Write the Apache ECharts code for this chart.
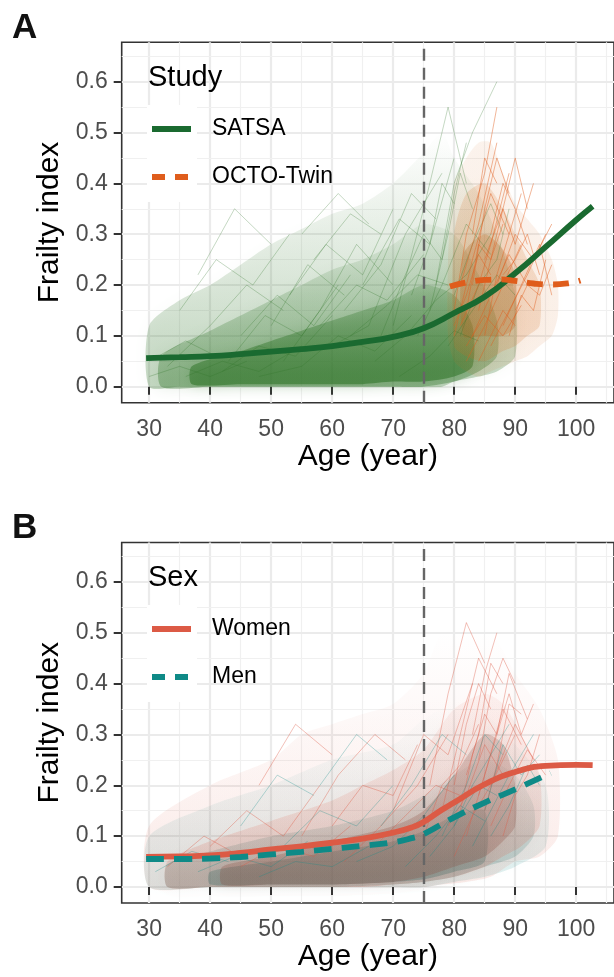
<!DOCTYPE html>
<html>
<head>
<meta charset="utf-8">
<script src="https://cdn.jsdelivr.net/npm/echarts@6/dist/echarts.min.js"></script>
<style>
  html, body { margin: 0; padding: 0; background: #fff; }
  #chart { width: 614px; height: 977px; }
</style>
</head>
<body>
<div id="chart"></div>
<script>
// tick labels
const xTicks = [30, 40, 50, 60, 70, 80, 90, 100]
const xMinor = [35, 45, 55, 65, 75, 85, 95, 105]
const yTicks = [0, 0.1, 0.2, 0.3, 0.4, 0.5, 0.6]
const yMinor = [0.05, 0.15, 0.25, 0.35, 0.45, 0.55, 0.65]
const cutAge = 75

// panel A smooth curves [age, frailty]
const satsaCurve = [[29.5, 0.056], [35, 0.058], [40, 0.060], [45, 0.064], [50, 0.069], [55, 0.074], [60, 0.080],
  [65, 0.088], [70, 0.098], [75, 0.115], [80, 0.145], [85, 0.177], [90, 0.223], [95, 0.275], [100, 0.328], [102.7, 0.355]]
const octoCurve = [[79.3, 0.197], [82, 0.205], [85, 0.210], [87.5, 0.211], [90, 0.208], [93, 0.203], [96, 0.201],
  [98.5, 0.203], [100.7, 0.209]]

// panel B smooth curves
const womenCurve = [[29.5, 0.059], [35, 0.060], [40, 0.062], [45, 0.067], [50, 0.074], [55, 0.080], [60, 0.087],
  [65, 0.095], [70, 0.107], [73, 0.117], [75, 0.128], [78, 0.152], [80, 0.166], [85, 0.202], [90, 0.226], [95, 0.238],
  [100, 0.240], [102.7, 0.2395]]
const menCurve = [[29.5, 0.055], [35, 0.055], [40, 0.056], [45, 0.059], [50, 0.064], [55, 0.069], [60, 0.075],
  [65, 0.081], [70, 0.088], [73, 0.096], [75, 0.104], [80, 0.137], [85, 0.166], [90, 0.192], [95.8, 0.224]]

// spread of the individual trajectories [age, low, high]
const satsaOuter = [[30, 0, 0.12], [35, 0, 0.17], [40, 0, 0.2], [45, 0, 0.24], [50, 0, 0.28], [55, 0, 0.31], [60, 0, 0.34],
  [65, 0, 0.36], [70, 0, 0.4], [75, 0, 0.46], [78, 0, 0.5], [80, 0.01, 0.45], [84, 0.02, 0.38], [87, 0.03, 0.3], [90, 0.06, 0.18]]
const satsaMid = [[32, 0, 0.06], [40, 0, 0.11], [45, 0, 0.14], [50, 0, 0.17], [55, 0, 0.2], [60, 0, 0.23], [65, 0, 0.25],
  [70, 0, 0.28], [75, 0, 0.32], [80, 0.01, 0.3], [84, 0.03, 0.22], [87, 0.06, 0.13]]
const satsaCore = [[37, 0.005, 0.04], [45, 0.005, 0.07], [50, 0.005, 0.09], [55, 0.005, 0.11], [60, 0.005, 0.13],
  [65, 0.005, 0.15], [70, 0.01, 0.17], [75, 0.01, 0.2], [80, 0.02, 0.18], [83, 0.04, 0.12]]
const octoOuter = [[79, 0.1, 0.25], [80, 0.05, 0.4], [82, 0.03, 0.45], [84, 0.02, 0.48], [86, 0.03, 0.48], [88, 0.04, 0.42],
  [90, 0.05, 0.36], [92, 0.06, 0.33], [94, 0.08, 0.3], [96, 0.1, 0.25], [97, 0.14, 0.2]]
const octoMid = [[80, 0.08, 0.3], [82, 0.06, 0.38], [85, 0.05, 0.4], [88, 0.07, 0.35], [90, 0.08, 0.3], [92, 0.1, 0.25],
  [94, 0.12, 0.2]]
const octoCore = [[81.5, 0.1, 0.26], [85, 0.1, 0.3], [88, 0.1, 0.27], [90, 0.12, 0.22]]

const womenOuter = [[30, 0, 0.12], [40, 0, 0.2], [50, 0, 0.25], [55, 0, 0.3], [60, 0, 0.32], [65, 0, 0.34], [70, 0, 0.36],
  [75, 0, 0.42], [78, 0.005, 0.5], [82, 0.01, 0.5], [86, 0.02, 0.5], [90, 0.05, 0.42], [94, 0.06, 0.35], [97, 0.1, 0.25]]
const womenMid = [[33, 0, 0.05], [40, 0, 0.09], [50, 0, 0.13], [60, 0, 0.17], [65, 0, 0.2], [70, 0.005, 0.23],
  [75, 0.01, 0.27], [80, 0.02, 0.35], [85, 0.04, 0.38], [88, 0.06, 0.36], [91, 0.08, 0.3], [94, 0.12, 0.22]]
const womenCore = [[42, 0.005, 0.04], [50, 0.005, 0.06], [60, 0.005, 0.09], [70, 0.01, 0.12], [75, 0.02, 0.15],
  [80, 0.04, 0.22], [85, 0.06, 0.3], [88, 0.09, 0.28], [90, 0.12, 0.2]]
const menOuter = [[30, 0, 0.1], [40, 0, 0.16], [50, 0, 0.2], [60, 0, 0.25], [70, 0, 0.28], [75, 0, 0.33], [80, 0.01, 0.36],
  [85, 0.02, 0.34], [90, 0.04, 0.28], [95, 0.08, 0.2]]
const menMid = [[33, 0, 0.045], [40, 0, 0.07], [50, 0, 0.1], [60, 0, 0.12], [70, 0.005, 0.15], [75, 0.01, 0.18],
  [80, 0.02, 0.22], [85, 0.04, 0.25], [90, 0.06, 0.22], [93, 0.1, 0.16]]
const menCore = [[40, 0.005, 0.03], [50, 0.005, 0.05], [60, 0.005, 0.07], [70, 0.01, 0.09], [75, 0.015, 0.11],
  [80, 0.03, 0.14], [85, 0.05, 0.15]]

// individual trajectories picked out of the clouds
const satsaPaths = [
  [[36, 0.02], [42, 0.05], [48, 0.03], [55, 0.08]],
  [[45, 0.1], [51, 0.18], [57, 0.12], [63, 0.22]],
  [[52, 0.05], [58, 0.15], [64, 0.28], [70, 0.2]],
  [[60, 0.08], [66, 0.12], [72, 0.3], [78, 0.42]],
  [[70, 0.12], [75, 0.35], [79, 0.55], [82, 0.4]],
  [[33, 0.04], [40, 0.12], [46, 0.2], [52, 0.15]],
  [[65, 0.2], [71, 0.33], [76, 0.28], [80, 0.45]],
  [[48, 0.02], [55, 0.04], [61, 0.1], [67, 0.07], [73, 0.14]],
  [[74, 0.1], [78, 0.2], [82, 0.32], [86, 0.26]],
  [[38, 0.22], [44, 0.35], [50, 0.28]],
  [[55, 0.3], [61, 0.38], [66, 0.32]],
  [[77, 0.2], [80, 0.4], [83, 0.5], [87, 0.6]],
  [[30, 0.05], [36, 0.09], [41, 0.06]],
  [[58, 0.12], [64, 0.2], [69, 0.17], [75, 0.26]],
  [[67, 0.05], [72, 0.1], [77, 0.17], [82, 0.22], [86, 0.3]],
  [[42, 0.03], [48, 0.08], [54, 0.06], [60, 0.14]],
  [[62, 0.15], [68, 0.24], [73, 0.38], [77, 0.33]],
  [[50, 0.12], [56, 0.24], [62, 0.18]],
  [[79, 0.08], [83, 0.15], [87, 0.22], [90, 0.18]],
  [[71, 0.02], [76, 0.06], [80, 0.11], [84, 0.09]],
  [[76, 0.15], [79, 0.3], [81, 0.42], [83, 0.35]],
  [[78, 0.25], [80, 0.38], [82, 0.48]],
  [[73, 0.18], [76, 0.28], [78, 0.4], [80, 0.36]],
  [[68, 0.1], [72, 0.22], [75, 0.3], [78, 0.25]],
  [[35, 0.15], [41, 0.25], [47, 0.2], [53, 0.3]],
  [[43, 0.05], [49, 0.14], [55, 0.1], [61, 0.2]],
  [[57, 0.25], [63, 0.34], [68, 0.3]],
  [[80, 0.18], [83, 0.28], [86, 0.36], [88, 0.3]],
  [[30, 0.02], [35, 0.04], [40, 0.02], [46, 0.05]],
  [[63, 0.1], [69, 0.16], [74, 0.22], [79, 0.2]],
  [[81, 0.1], [84, 0.2], [87, 0.25], [89, 0.35]],
  [[53, 0.18], [59, 0.28], [65, 0.22], [70, 0.35]]
]
const octoPaths = [
  [[80, 0.1], [83, 0.25], [86, 0.38], [89, 0.3]],
  [[82, 0.05], [85, 0.12], [88, 0.2], [91, 0.28]],
  [[84, 0.15], [87, 0.3], [90, 0.45], [92, 0.35]],
  [[81, 0.2], [84, 0.32], [87, 0.48]],
  [[86, 0.08], [89, 0.15], [92, 0.22], [95, 0.3]],
  [[83, 0.1], [86, 0.18], [89, 0.26], [92, 0.2]],
  [[80, 0.15], [82, 0.3], [85, 0.42], [87, 0.55]],
  [[88, 0.12], [91, 0.2], [94, 0.28], [96, 0.18]],
  [[85, 0.25], [88, 0.35], [90, 0.28], [93, 0.4]],
  [[82, 0.08], [85, 0.14], [88, 0.1], [91, 0.16]],
  [[87, 0.2], [90, 0.3], [93, 0.25], [96, 0.32]],
  [[81, 0.12], [84, 0.2], [86, 0.28], [89, 0.42]],
  [[83, 0.2], [85, 0.35], [87, 0.45], [89, 0.38]],
  [[85, 0.1], [87, 0.22], [89, 0.3], [91, 0.38]],
  [[89, 0.1], [91, 0.18], [93, 0.15], [95, 0.25]],
  [[80, 0.12], [82, 0.18], [84, 0.26], [86, 0.22]],
  [[84, 0.05], [86, 0.1], [88, 0.15], [90, 0.12]],
  [[86, 0.3], [88, 0.4], [90, 0.35], [92, 0.28]],
  [[82, 0.15], [84, 0.28], [86, 0.25], [88, 0.32]],
  [[90, 0.15], [92, 0.2], [94, 0.18], [96, 0.24]],
  [[83, 0.3], [85, 0.45], [87, 0.4]],
  [[88, 0.22], [90, 0.25], [92, 0.3], [94, 0.22]]
]
const womenPaths = [
  [[40, 0.08], [46, 0.15], [52, 0.1], [58, 0.2]],
  [[55, 0.1], [61, 0.22], [67, 0.3], [72, 0.25]],
  [[78, 0.15], [81, 0.3], [84, 0.45], [87, 0.38]],
  [[82, 0.1], [85, 0.22], [88, 0.35], [91, 0.28]],
  [[76, 0.2], [79, 0.38], [82, 0.52], [85, 0.44]],
  [[84, 0.18], [87, 0.3], [89, 0.42], [92, 0.33]],
  [[62, 0.05], [68, 0.12], [74, 0.2], [79, 0.3]],
  [[33, 0.04], [39, 0.1], [45, 0.06]],
  [[48, 0.2], [54, 0.32], [60, 0.26]],
  [[86, 0.12], [89, 0.2], [92, 0.27], [95, 0.22]],
  [[70, 0.15], [75, 0.3], [79, 0.26], [83, 0.4]],
  [[80, 0.06], [83, 0.14], [86, 0.2], [90, 0.3]],
  [[80, 0.2], [82, 0.32], [84, 0.4], [86, 0.35]],
  [[84, 0.25], [86, 0.38], [88, 0.45], [90, 0.4]],
  [[86, 0.2], [88, 0.26], [90, 0.32], [93, 0.25]],
  [[79, 0.12], [82, 0.18], [85, 0.28], [88, 0.22]],
  [[83, 0.3], [85, 0.42], [87, 0.5]],
  [[88, 0.1], [90, 0.18], [92, 0.22], [94, 0.3]],
  [[75, 0.1], [78, 0.2], [81, 0.24], [84, 0.32]],
  [[60, 0.12], [65, 0.2], [70, 0.18], [74, 0.28]],
  [[45, 0.04], [51, 0.08], [57, 0.06], [63, 0.12]],
  [[67, 0.08], [72, 0.14], [77, 0.2], [81, 0.18]],
  [[81, 0.15], [83, 0.26], [85, 0.34], [87, 0.3]],
  [[85, 0.15], [87, 0.24], [89, 0.36], [91, 0.34]],
  [[87, 0.3], [89, 0.38], [91, 0.3], [93, 0.36]],
  [[82, 0.22], [84, 0.3], [86, 0.44], [88, 0.4]]
]
const menPaths = [
  [[38, 0.03], [44, 0.06], [50, 0.04], [56, 0.09]],
  [[52, 0.08], [58, 0.15], [64, 0.12], [70, 0.2]],
  [[64, 0.05], [70, 0.08], [75, 0.14], [80, 0.22]],
  [[78, 0.1], [82, 0.2], [85, 0.3], [88, 0.26]],
  [[83, 0.08], [86, 0.15], [89, 0.22], [93, 0.3]],
  [[45, 0.12], [51, 0.22], [57, 0.18]],
  [[72, 0.04], [77, 0.1], [81, 0.16], [85, 0.13]],
  [[31, 0.03], [37, 0.07], [43, 0.05]],
  [[58, 0.2], [64, 0.3], [69, 0.25]],
  [[85, 0.15], [88, 0.28], [91, 0.22], [94, 0.26]],
  [[80, 0.12], [83, 0.2], [86, 0.26], [89, 0.32]],
  [[86, 0.1], [89, 0.16], [92, 0.24], [94, 0.2]],
  [[76, 0.06], [80, 0.12], [84, 0.2], [87, 0.18]],
  [[48, 0.02], [54, 0.05], [60, 0.04], [66, 0.08]],
  [[68, 0.12], [73, 0.2], [78, 0.3], [82, 0.26]]
]

const green = '#1a6a30'
const greenCloud = '#2f7428'
const orange = '#df5d1c'
const octoCloud = '#d26a1c'
const red = '#dc5a45'
const teal = '#0f8a87'
const font = 'Liberation Sans, Arial, sans-serif'

function rgba(hex, a) {
  const n = parseInt(hex.slice(1), 16)
  return 'rgba(' + (n >> 16) + ',' + ((n >> 8) & 255) + ',' + (n & 255) + ',' + a + ')'
}

// density band: fades towards its upper edge, blurred rim
function bandSeries(pts, color, topAlpha, bottomAlpha, gi) {
  return {
    type: 'custom',
    xAxisIndex: gi,
    yAxisIndex: gi,
    silent: true,
    clip: true,
    z: 1,
    data: pts,
    encode: { x: 0, y: [1, 2] },
    renderItem(params, api) {
      if (params.dataIndex !== 0) return null
      const up = []
      const dn = []
      pts.forEach(p => {
        up.push(api.coord([p[0], p[2]]))
        dn.push(api.coord([p[0], p[1]]))
      })
      return {
        type: 'polygon',
        shape: { points: up.concat(dn.reverse()), smooth: 0.25 },
        style: {
          fill: new echarts.graphic.LinearGradient(0, 0, 0, 1, [
            { offset: 0, color: rgba(color, topAlpha) },
            { offset: 1, color: rgba(color, bottomAlpha) }
          ]),
          shadowBlur: 14,
          shadowColor: rgba(color, (topAlpha + bottomAlpha) / 2)
        }
      }
    }
  }
}

function pathSeries(path, color, opacity, gi) {
  return {
    type: 'line',
    xAxisIndex: gi,
    yAxisIndex: gi,
    data: path,
    silent: true,
    symbol: 'none',
    z: 2,
    lineStyle: { color: color, width: 1, opacity: opacity }
  }
}

function curveSeries(name, pts, color, dash, gi) {
  return {
    name: name,
    type: 'line',
    xAxisIndex: gi,
    yAxisIndex: gi,
    data: pts,
    smooth: true,
    symbol: 'none',
    silent: true,
    z: 5,
    lineStyle: { color: color, width: 5.8, type: dash, cap: 'butt' }
  }
}

function gridSeries(gi) {
  const lines = []
  xTicks.forEach(v => lines.push({ xAxis: v, lineStyle: { width: 2.2, color: '#ebebeb' } }))
  xMinor.forEach(v => lines.push({ xAxis: v, lineStyle: { width: 1.2, color: '#f0f0f0' } }))
  yTicks.forEach(v => lines.push({ yAxis: v, lineStyle: { width: 2.2, color: '#ebebeb' } }))
  yMinor.forEach(v => lines.push({ yAxis: v, lineStyle: { width: 1.2, color: '#f0f0f0' } }))
  return {
    type: 'line',
    xAxisIndex: gi,
    yAxisIndex: gi,
    data: [],
    silent: true,
    z: 0,
    markLine: {
      silent: true,
      z: 0,
      symbol: 'none',
      animation: false,
      label: { show: false },
      lineStyle: { type: 'solid' },
      data: lines
    }
  }
}

function cutSeries(gi) {
  return {
    type: 'line',
    xAxisIndex: gi,
    yAxisIndex: gi,
    data: [],
    silent: true,
    z: 4,
    markLine: {
      silent: true,
      z: 4,
      symbol: 'none',
      animation: false,
      label: { show: false },
      lineStyle: { color: '#666', width: 2.4, type: [12, 7] },
      data: [{ xAxis: cutAge }]
    }
  }
}

function xAxis(gi) {
  return {
    type: 'value',
    gridIndex: gi,
    min: 25.5,
    max: 106.2,
    name: 'Age (year)',
    nameLocation: 'middle',
    nameGap: 38,
    nameTextStyle: { fontSize: 30, color: '#000', fontFamily: font },
    axisLine: { show: false },
    splitLine: { show: false },
    axisTick: { show: true, length: 8, customValues: xTicks, lineStyle: { color: '#333', width: 2 } },
    axisLabel: { customValues: xTicks, margin: 15, fontSize: 23, color: '#4d4d4d', fontFamily: font }
  }
}

function yAxis(gi) {
  return {
    type: 'value',
    gridIndex: gi,
    min: -0.0315,
    max: 0.6775,
    name: 'Frailty index',
    nameLocation: 'middle',
    nameGap: 56,
    nameTextStyle: { fontSize: 30, color: '#000', fontFamily: font },
    axisLine: { show: false },
    splitLine: { show: false },
    axisTick: { show: true, length: 8, customValues: yTicks, lineStyle: { color: '#333', width: 2 } },
    axisLabel: { customValues: yTicks, margin: 14, fontSize: 23, color: '#4d4d4d', fontFamily: font,
      formatter: v => v.toFixed(1) }
  }
}

function legendGraphic(top, title, items) {
  const els = [
    { type: 'text', left: 148, top: top - 15, z: 91, style: { text: title, fontSize: 29, fill: '#000', fontFamily: font } },
    { type: 'rect', shape: { x: 147, y: top + 27, width: 50, height: 97 }, style: { fill: '#fff' }, z: 90 }
  ]
  items.forEach((it, i) => {
    const y = top + 51 + i * 48
    els.push({ type: 'line', shape: { x1: 152, y1: y, x2: 191, y2: y }, z: 91,
      style: { stroke: it.color, lineWidth: 6, lineDash: it.dash ? [13, 10] : null, lineCap: 'butt' } })
    els.push({ type: 'text', left: 212, top: y - 12, z: 91,
      style: { text: it.name, fontSize: 23, fill: '#000', fontFamily: font } })
  })
  return els
}

const series = [gridSeries(0), gridSeries(1)]

series.push(bandSeries(satsaOuter, greenCloud, 0.0, 0.28, 0))
series.push(bandSeries(satsaMid, greenCloud, 0.05, 0.38, 0))
series.push(bandSeries(satsaCore, greenCloud, 0.2, 0.6, 0))
satsaPaths.forEach(p => series.push(pathSeries(p, greenCloud, 0.28, 0)))
series.push(bandSeries(octoOuter, octoCloud, 0.08, 0.1, 0))
series.push(bandSeries(octoMid, octoCloud, 0.16, 0.18, 0))
series.push(bandSeries(octoCore, '#b5621a', 0.26, 0.26, 0))
octoPaths.forEach(p => series.push(pathSeries(p, orange, 0.45, 0)))

series.push(bandSeries(menOuter, teal, 0.0, 0.14, 1))
series.push(bandSeries(womenOuter, red, 0.0, 0.12, 1))
series.push(bandSeries(menMid, '#3d7f7a', 0.04, 0.28, 1))
series.push(bandSeries(womenMid, red, 0.06, 0.2, 1))
series.push(bandSeries(menCore, '#3f6b66', 0.15, 0.35, 1))
series.push(bandSeries(womenCore, '#8a4a3c', 0.22, 0.28, 1))
womenPaths.forEach(p => series.push(pathSeries(p, red, 0.38, 1)))
menPaths.forEach(p => series.push(pathSeries(p, teal, 0.3, 1)))

series.push(cutSeries(0), cutSeries(1))
series.push(curveSeries('SATSA', satsaCurve, green, 'solid', 0))
series.push(curveSeries('OCTO-Twin', octoCurve, orange, [16, 10], 0))
series.push(curveSeries('Women', womenCurve, red, 'solid', 1))
series.push(curveSeries('Men', menCurve, teal, [18, 10], 1))

const option = {
  animation: false,
  backgroundColor: '#fff',
  textStyle: { fontFamily: font },
  title: [
    { text: 'A', left: 7, top: 6, textStyle: { fontSize: 35, fontWeight: 'bold', color: '#111', fontFamily: font } },
    { text: 'B', left: 7, top: 506, textStyle: { fontSize: 35, fontWeight: 'bold', color: '#111', fontFamily: font } }
  ],
  grid: [
    { left: 121.7, top: 42.3, width: 493, height: 360.4, show: true, backgroundColor: '#fff', borderColor: '#333', borderWidth: 1.6 },
    { left: 121.7, top: 542.5, width: 493, height: 360.5, show: true, backgroundColor: '#fff', borderColor: '#333', borderWidth: 1.6 }
  ],
  xAxis: [xAxis(0), xAxis(1)],
  yAxis: [yAxis(0), yAxis(1)],
  graphic: legendGraphic(78, 'Study', [
    { name: 'SATSA', color: green, dash: false },
    { name: 'OCTO-Twin', color: orange, dash: true }
  ]).concat(legendGraphic(578, 'Sex', [
    { name: 'Women', color: red, dash: false },
    { name: 'Men', color: teal, dash: true }
  ])),
  series: series
}

const chart = echarts.init(document.getElementById('chart'), null, { renderer: 'canvas' })
chart.setOption(option)
</script>
</body>
</html>
